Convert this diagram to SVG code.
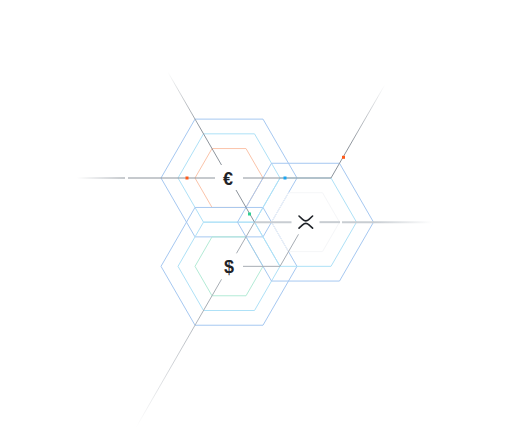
<svg xmlns="http://www.w3.org/2000/svg" width="510" height="428" viewBox="0 0 510 428">
  <style>
    .hex { fill: none; stroke-width: 1; }
    .outer { stroke: #a6c8f1; }
    .mid { stroke: #aee1f7; }
    .eur-in { stroke: #fbc4aa; }
    .usd-in { stroke: #b3ebd6; }
    .xrp-in { stroke: #f5f6f8; }
    .ln { fill: none; stroke: #8d949c; stroke-width: 1; }
    .ln2 { fill: none; stroke: #a7adb4; stroke-width: 1; }
    .ln3 { fill: none; stroke: #c8cdd2; stroke-width: 2; }
    .sym { font-family: "Liberation Sans", Arial, sans-serif; font-weight: bold; font-size: 18px; fill: #1f2328; text-anchor: middle; }
  </style>
  <defs>
    <linearGradient id="gUL" gradientUnits="userSpaceOnUse" x1="168" y1="72" x2="200" y2="128">
      <stop offset="0" stop-color="#8d949c" stop-opacity="0"/>
      <stop offset="1" stop-color="#8d949c"/>
    </linearGradient>
    <linearGradient id="gL" gradientUnits="userSpaceOnUse" x1="77" y1="178" x2="125" y2="178">
      <stop offset="0" stop-color="#8d949c" stop-opacity="0"/>
      <stop offset="1" stop-color="#8d949c"/>
    </linearGradient>
    <linearGradient id="gUR" gradientUnits="userSpaceOnUse" x1="385" y1="85" x2="350" y2="145">
      <stop offset="0" stop-color="#8d949c" stop-opacity="0"/>
      <stop offset="1" stop-color="#8d949c"/>
    </linearGradient>
    <linearGradient id="gDL" gradientUnits="userSpaceOnUse" x1="136" y1="427" x2="205" y2="307">
      <stop offset="0" stop-color="#a7adb4" stop-opacity="0"/>
      <stop offset="1" stop-color="#a7adb4"/>
    </linearGradient>
    <linearGradient id="gR" gradientUnits="userSpaceOnUse" x1="432" y1="222" x2="375" y2="222">
      <stop offset="0" stop-color="#c8cdd2" stop-opacity="0"/>
      <stop offset="1" stop-color="#c8cdd2"/>
    </linearGradient>
  </defs>

  <g id="eur">
    <polygon class="hex outer" points="297,178 263,236.89 195,236.89 161,178 195,119.11 263,119.11"/>
    <polygon class="hex mid" points="280,178 254.5,222.17 203.5,222.17 178,178 203.5,133.83 254.5,133.83"/>
    <polygon class="hex eur-in" points="263,178 246,207.44 212,207.44 195,178 212,148.56 246,148.56"/>
    <text class="sym" x="228" y="184.5">€</text>
  </g>

  <g id="usd">
    <polygon class="hex outer" points="297,266.33 263,325.22 195,325.22 161,266.33 195,207.44 263,207.44"/>
    <polygon class="hex mid" points="280,266.33 254.5,310.5 203.5,310.5 178,266.33 203.5,222.17 254.5,222.17"/>
    <polygon class="hex usd-in" points="263,266.33 246,295.77 212,295.77 195,266.33 212,236.89 246,236.89"/>
    <text class="sym" x="229" y="272.5">$</text>
  </g>

  <g id="xrp">
    <polygon class="hex outer" points="373.5,222.17 339.5,281.06 271.5,281.06 237.5,222.17 271.5,163.28 339.5,163.28"/>
    <polygon class="hex mid" points="356.5,222.17 331,266.33 280,266.33 254.5,222.17 280,178 331,178"/>
    <polygon class="hex xrp-in" points="339.5,222.17 322.5,251.61 288.5,251.61 271.5,222.17 288.5,192.73 322.5,192.73"/>
    <path d="M299,216 L302.6,219.4 Q305.8,222.3 309,219.4 L312.6,216 M299,228.2 L302.6,224.8 Q305.8,221.9 309,224.8 L312.6,228.2" fill="none" stroke="#1f2328" stroke-width="1.6" stroke-linecap="round"/>
  </g>

  <g id="connectors">
    <path stroke="url(#gUL)" stroke-width="1" fill="none" d="M168,72.3 L221.5,165"/>
    <path stroke="url(#gL)" stroke-width="1" fill="none" d="M77,178 L125,178"/>
    <path class="ln" d="M128,178 L215,178"/>
    <path class="ln" d="M243,178 L331,178 L350,145.1"/>
    <path stroke="url(#gUR)" stroke-width="1" fill="none" d="M350,145.1 L385,84.5"/>
    <path class="ln" d="M236,190 L254.5,222.17"/>
    <path class="ln2" d="M236.5,253.3 L254.5,222.17"/>
    <path class="ln2" d="M243,266.33 L280,266.33"/>
    <path stroke="url(#gDL)" stroke-width="1" fill="none" d="M221.5,279.3 L136,427.5"/>
    <path class="ln3" d="M291.5,222.17 L255,222.17"/>
    <path class="ln3" d="M319.5,222.17 L340,222.17"/>
    <path stroke="url(#gR)" stroke-width="2" fill="none" d="M342,222.17 L432,222.17"/>
    <path class="ln2" d="M298.5,234.3 L280,266.33"/>
    <rect x="185.5" y="176.5" width="3" height="3" fill="#ff5a1a"/>
    <rect x="283.5" y="176.5" width="3" height="3" fill="#1aa5f2"/>
    <rect x="342" y="155.8" width="3" height="3" fill="#ff5a1a"/>
    <rect x="248" y="212.5" width="3" height="3" fill="#2fcf94"/>
  </g>
</svg>
